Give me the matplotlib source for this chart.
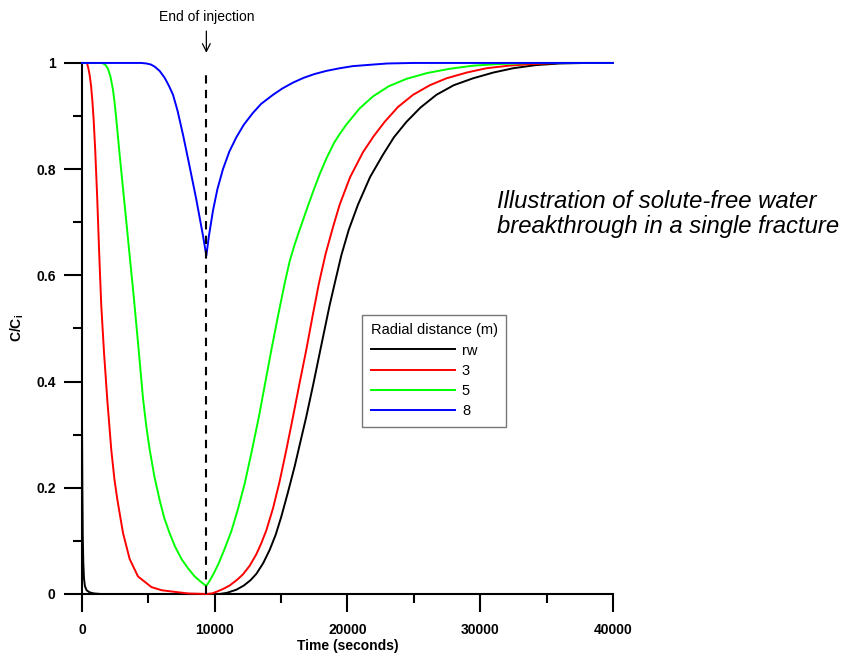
import numpy as np
import matplotlib
matplotlib.use('Agg')
import matplotlib.pyplot as plt
from matplotlib.ticker import MultipleLocator

plt.rcParams['font.family'] = ['Liberation Sans', 'DejaVu Sans']
plt.rcParams['mathtext.fontset'] = 'custom'
plt.rcParams['mathtext.rm'] = 'Liberation Sans'
plt.rcParams['mathtext.bf'] = 'Liberation Sans:bold'

# time (s) and C/Ci
t_rw = [0, 30, 60, 100, 150, 220, 350, 580, 900, 1400, 9370, 10370, 10900, 11630, 12200,
        12700, 13140, 13650, 14140, 14600, 15020, 15500, 16020, 16450, 16900, 17450, 17960,
        18660, 19040, 19540, 20100, 20790, 21700, 22670, 23500, 24440, 25500, 26700, 28000,
        29450, 31000, 32470, 34200, 36000, 38000, 40000]
c_rw = [0.34, 0.20, 0.11, 0.06, 0.03, 0.015, 0.007, 0.003, 0.001, 0.0, 0.0, 0.0, 0.002,
        0.008, 0.016, 0.026, 0.038, 0.058, 0.083, 0.112, 0.146, 0.190, 0.240, 0.286, 0.334,
        0.398, 0.460, 0.544, 0.585, 0.638, 0.686, 0.733, 0.785, 0.827, 0.860, 0.889, 0.916,
        0.940, 0.958, 0.971, 0.982, 0.990, 0.996, 0.999, 1.0, 1.0]

t_3 = [0, 330, 400, 480, 580, 680, 780, 880, 1000, 1150, 1300, 1450, 1660, 1910, 2210,
       2450, 2670, 3090, 3590, 4220, 5230, 6000, 6980, 8000, 9370, 9800, 10120, 10600,
       11130, 11700, 12130, 12630, 13140, 13500, 13890, 14400, 14890, 15400, 15900, 16400,
       16900, 17400, 17850, 18350, 18900, 19410, 20200, 21170, 22000, 22800, 23800, 24940,
       26200, 27450, 29000, 30460, 32200, 33970, 36000, 40000]
c_3 = [1.0, 1.0, 0.998, 0.990, 0.977, 0.958, 0.930, 0.893, 0.835, 0.745, 0.640, 0.545,
       0.455, 0.365, 0.271, 0.215, 0.177, 0.115, 0.066, 0.033, 0.013, 0.007, 0.004, 0.001,
       0.0, 0.001, 0.004, 0.009, 0.016, 0.027, 0.037, 0.053, 0.075, 0.095, 0.120, 0.162,
       0.212, 0.272, 0.334, 0.398, 0.460, 0.527, 0.585, 0.640, 0.690, 0.733, 0.785, 0.832,
       0.863, 0.889, 0.917, 0.940, 0.958, 0.971, 0.982, 0.990, 0.995, 0.998, 1.0, 1.0]

t_5 = [0, 1460, 1600, 1780, 1960, 2150, 2335, 2460, 2590, 2840, 3090, 3345, 3590, 3900,
       4270, 4600, 4850, 5100, 5450, 5850, 6200, 6610, 7000, 7490, 8000, 8490, 8950, 9370,
       9600, 9870, 10250, 10700, 11250, 11750, 12260, 12800, 13330, 13800, 14270, 14780,
       15270, 15650, 16020, 16400, 16900, 17400, 17900, 18410, 19000, 19410, 19920, 20900,
       21920, 23100, 24440, 26000, 27700, 29500, 31470, 34000, 40000]
c_5 = [1.0, 1.0, 0.999, 0.996, 0.989, 0.974, 0.950, 0.925, 0.893, 0.827, 0.764, 0.700,
       0.638, 0.560, 0.460, 0.368, 0.315, 0.272, 0.222, 0.177, 0.143, 0.114, 0.090, 0.066,
       0.048, 0.033, 0.023, 0.015, 0.024, 0.036, 0.055, 0.082, 0.118, 0.160, 0.208, 0.270,
       0.334, 0.397, 0.460, 0.525, 0.585, 0.627, 0.658, 0.686, 0.722, 0.757, 0.790, 0.820,
       0.850, 0.866, 0.884, 0.914, 0.937, 0.956, 0.970, 0.981, 0.989, 0.995, 0.998, 1.0, 1.0]

t_8 = [0, 4470, 4850, 5200, 5480, 5850, 6230, 6550, 6860, 7200, 7610, 8110, 8620, 9115,
       9370, 9550, 9870, 10200, 10620, 11100, 11630, 12200, 12880, 13500, 14390, 15100,
       15900, 16700, 17500, 18400, 19410, 20400, 21420, 23000, 25000, 40000]
c_8 = [1.0, 1.0, 0.999, 0.997, 0.993, 0.985, 0.972, 0.957, 0.940, 0.910, 0.865, 0.805,
       0.742, 0.675, 0.637, 0.672, 0.722, 0.762, 0.800, 0.833, 0.860, 0.884, 0.906, 0.923,
       0.940, 0.952, 0.963, 0.972, 0.979, 0.985, 0.990, 0.994, 0.996, 0.999, 1.0, 1.0]

series = [('rw', t_rw, c_rw, 'black'),
          ('3', t_3, c_3, '#ff0000'),
          ('5', t_5, c_5, '#00ff00'),
          ('8', t_8, c_8, '#0000ff')]

t_end = 9370  # end of injection

fig = plt.figure(figsize=(8.45, 6.53), dpi=100)
ax = fig.add_axes([0.0970, 0.0904, 0.6284, 0.8132])

for name, t, c, col in series:
    ax.plot(t, c, color=col, lw=1.4, label=name, clip_on=False, zorder=3)

ax.axvline(t_end, ymin=0, ymax=0.987, color='black', lw=1.5, dashes=(4, 3), zorder=4)

ax.set_xlim(0, 40000)
ax.set_ylim(0, 1)
for s in ['top', 'right']:
    ax.spines[s].set_visible(False)
for s in ['left', 'bottom']:
    ax.spines[s].set_linewidth(1.5)

ax.xaxis.set_major_locator(MultipleLocator(10000))
ax.xaxis.set_minor_locator(MultipleLocator(5000))
ax.yaxis.set_major_locator(MultipleLocator(0.2))
ax.yaxis.set_minor_locator(MultipleLocator(0.1))
ax.tick_params(which='major', direction='out', length=13, width=1.5, labelsize=10)
ax.tick_params(which='minor', direction='out', length=6.5, width=1.5)
ax.tick_params(axis='x', which='major', pad=8)
ax.tick_params(axis='y', which='major', pad=6)
ax.set_yticks([0, 0.2, 0.4, 0.6, 0.8, 1.0])
ax.set_yticklabels(['0', '0.2', '0.4', '0.6', '0.8', '1'], fontweight='bold')
ax.set_xticks([0, 10000, 20000, 30000, 40000])
ax.set_xticklabels(['0', '10000', '20000', '30000', '40000'], fontweight='bold')

ax.set_xlabel('Time (seconds)', fontsize=10, fontweight='bold', labelpad=1)
ax.set_ylabel(r'C/C$_{\mathregular{i}}$', fontsize=10, fontweight='bold', labelpad=7)

ax.text(t_end, 1.087, 'End of injection', ha='center', va='center', fontsize=10,
        clip_on=False)
ax.annotate('', xy=(t_end, 1.019), xytext=(t_end, 1.06),
            arrowprops=dict(arrowstyle='->', lw=0.9, color='black',
                            shrinkA=0, shrinkB=0, mutation_scale=14),
            annotation_clip=False)

fig.text(497 / 845, 1 - 214 / 653,
         'Illustration of solute-free water\nbreakthrough in a single fracture',
         fontsize=17.2, style='italic', ha='left', va='center', linespacing=1.15)

leg = ax.legend(title='Radial distance (m)', loc='upper left',
                bbox_to_anchor=(362 / 845, 1 - 314.7 / 653), bbox_transform=fig.transFigure,
                fontsize=10.5, title_fontsize=10.5, frameon=True, fancybox=False,
                edgecolor='#555555', handlelength=5.8, handletextpad=0.45,
                labelspacing=0.42, borderpad=0.6, borderaxespad=0, alignment='left')
leg.get_frame().set_linewidth(1.0)

fig.savefig('out.png', dpi=100)
